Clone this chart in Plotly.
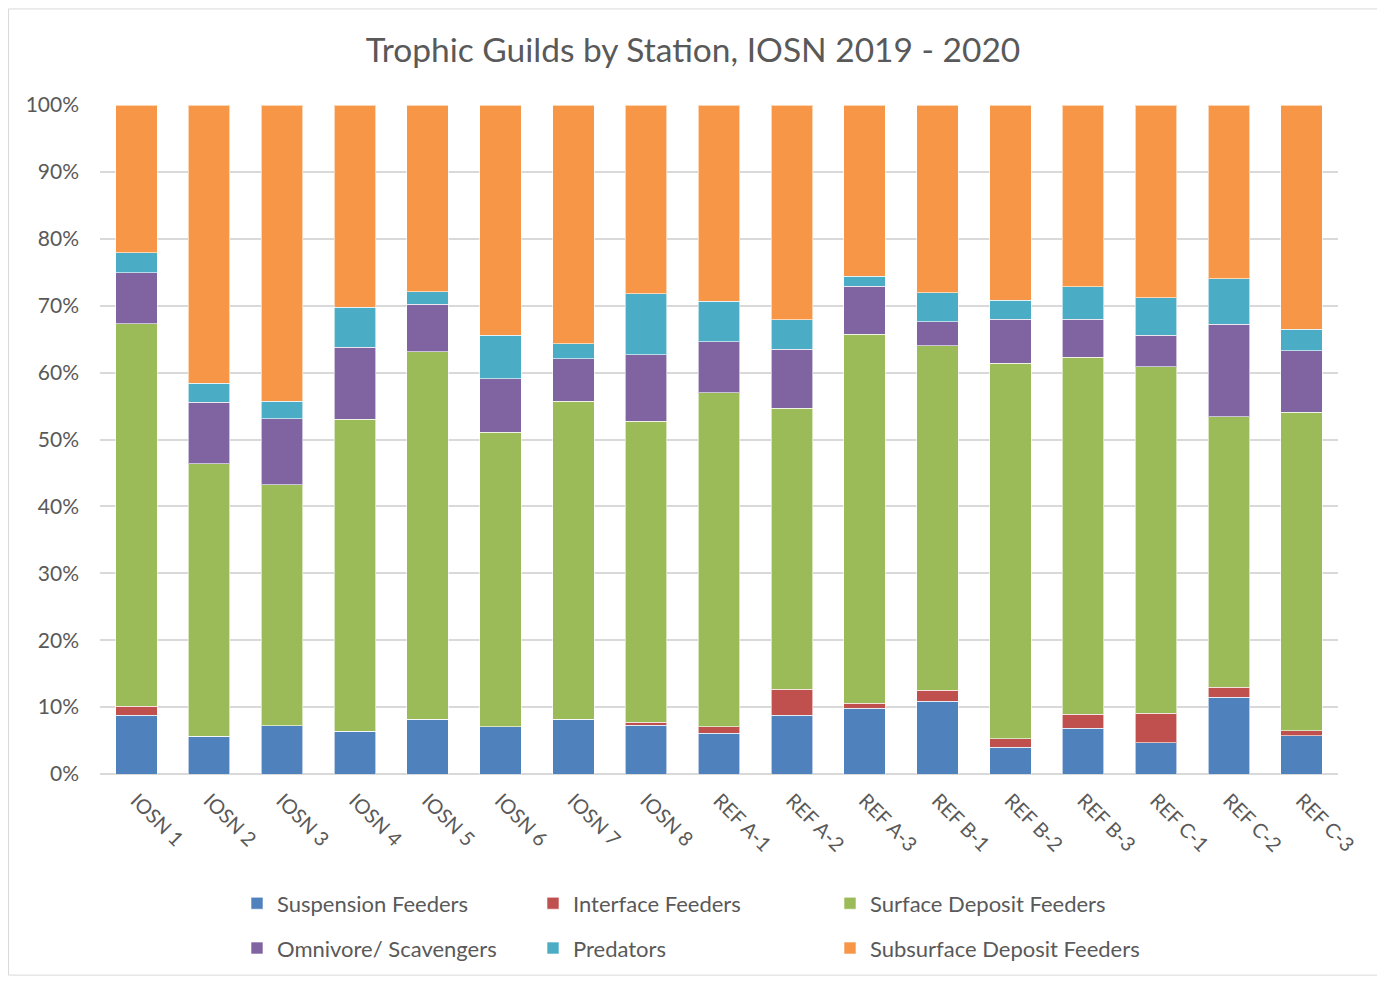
import plotly.graph_objects as go

stations = ["IOSN 1", "IOSN 2", "IOSN 3", "IOSN 4", "IOSN 5", "IOSN 6", "IOSN 7", "IOSN 8",
            "REF A-1", "REF A-2", "REF A-3", "REF B-1", "REF B-2", "REF B-3",
            "REF C-1", "REF C-2", "REF C-3"]

suspension = [8.8, 5.65, 7.25, 6.4, 8.2, 7.1, 8.2, 7.3, 6.1, 8.8, 9.8, 10.9, 4.0, 6.85, 4.65, 11.5, 5.75]
interface = [1.3, 0, 0, 0, 0, 0, 0, 0.4, 1.0, 3.9, 0.75, 1.6, 1.3, 2.05, 4.4, 1.45, 0.75]
surface_deposit = [57.2, 40.75, 35.95, 46.6, 54.9, 44.0, 47.5, 45.0, 49.9, 42.0, 55.15, 51.5, 56.1, 53.4, 51.85, 40.45, 47.6]
omnivore = [7.6, 9.2, 9.9, 10.8, 7.1, 8.0, 6.4, 10.0, 7.6, 8.8, 7.2, 3.6, 6.6, 5.7, 4.7, 13.8, 9.2]
predators = [3.0, 2.8, 2.6, 6.0, 1.9, 6.5, 2.2, 9.1, 6.1, 4.4, 1.5, 4.3, 2.8, 4.8, 5.6, 6.8, 3.2]
subsurface = [22.1, 41.6, 44.3, 30.2, 27.9, 34.4, 35.7, 28.2, 29.3, 32.1, 25.6, 28.1, 29.2, 27.2, 28.8, 26.0, 33.5]

y_ticks = [0, 10, 20, 30, 40, 50, 60, 70, 80, 90, 100]
y_tick_labels = ["0%", "10%", "20%", "30%", "40%", "50%", "60%", "70%", "80%", "90%", "100%"]

FONT = "Lato, Open Sans, sans-serif"
GREY = "#595959"

# figure coordinates (page has an 8px body margin)
W, H = 1377, 973
PL, PR, PT, PB = 92, 1330, 97, 769
PW, PHT = PR - PL, PB - PT

# legend slots (figure px): column x of legend box, row y
COLS = [229, 525, 822]
ROWS = [899, 944]

series = [
    ("Suspension Feeders", suspension, "#4F81BD"),
    ("Interface Feeders", interface, "#C0504D"),
    ("Surface Deposit Feeders", surface_deposit, "#9BBB59"),
    ("Omnivore/ Scavengers", omnivore, "#8064A2"),
    ("Predators", predators, "#4BACC6"),
    ("Subsurface Deposit Feeders", subsurface, "#F79646"),
]

fig = go.Figure()
legends = {}
for i, (name, vals, color) in enumerate(series):
    lg = "legend" if i == 0 else f"legend{i + 1}"
    fig.add_trace(go.Bar(
        x=stations, y=vals, name=name, legend=lg, showlegend=True,
        marker=dict(color=color, line=dict(color="rgba(255,255,255,0.6)", width=1)),
    ))
    legends[lg] = dict(
        x=(COLS[i % 3] - PL) / PW, y=(PB - ROWS[i // 3]) / PHT,
        xanchor="left", yanchor="middle", orientation="h",
        font=dict(family=FONT, size=22, color=GREY),
        itemwidth=30, bgcolor="rgba(0,0,0,0)",
    )

fig.update_layout(
    width=W, height=H,
    margin=dict(l=PL, r=W - PR, t=PT, b=H - PB),
    paper_bgcolor="white", plot_bgcolor="white",
    showlegend=True,
    barmode="stack", barnorm="percent", bargap=0.43,
    title=dict(text="Trophic Guilds by Station, IOSN 2019 - 2020",
               x=685 / W, xanchor="center", y=1 - 42 / H, yanchor="middle",
               font=dict(family=FONT, size=33.5, color=GREY)),
    font=dict(family=FONT, color=GREY),
    xaxis=dict(tickangle=45, tickfont=dict(family=FONT, size=20, color=GREY),
               showgrid=False, showline=False, ticks="", ticklabelstandoff=10),
    yaxis=dict(range=[0, 100], tickvals=y_ticks, ticktext=y_tick_labels,
               tickfont=dict(family=FONT, size=21, color=GREY),
               showgrid=True, gridcolor="#D9D9D9", gridwidth=1.5,
               zeroline=True, zerolinecolor="#D9D9D9", zerolinewidth=1.5,
               showline=False, ticks="", ticklabelstandoff=20),
    shapes=[dict(type="rect", xref="paper", yref="paper",
                 x0=(0.5 - PL) / PW, x1=(1371 - PL) / PW,
                 y0=(PB - 971) / PHT, y1=(PB - 0.5) / PHT,
                 line=dict(color="#D9D9D9", width=1), layer="below")],
    **legends,
)

fig.write_html("out.html")
